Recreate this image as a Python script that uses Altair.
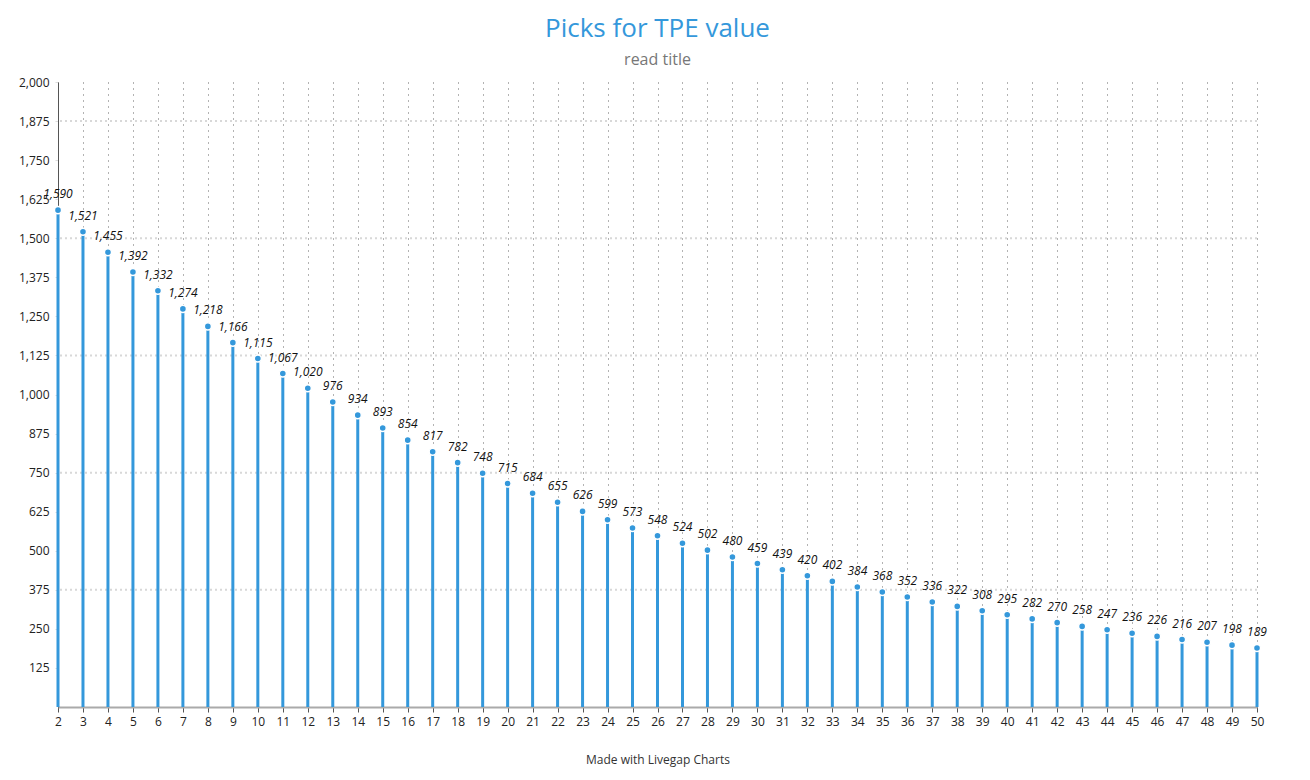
import altair as alt
import pandas as pd

picks = list(range(2, 51))
values = [1590, 1521, 1455, 1392, 1332, 1274, 1218, 1166, 1115, 1067, 1020, 976, 934, 893,
          854, 817, 782, 748, 715, 684, 655, 626, 599, 573, 548, 524, 502, 480, 459, 439,
          420, 402, 384, 368, 352, 336, 322, 308, 295, 282, 270, 258, 247, 236, 226, 216,
          207, 198, 189]
y_ticks = [125, 250, 375, 500, 625, 750, 875, 1000, 1125, 1250, 1375, 1500, 1625, 1750, 1875, 2000]
grid_lines = [375, 750, 1125, 1500, 1875]

BLUE = "#3498db"
FONT = "Open Sans"

df = pd.DataFrame({"pick": picks, "value": values})
df["label"] = df["value"].map(lambda v: f"{v:,}")
grid_df = pd.DataFrame({"g": grid_lines})

x = alt.X("pick:O", scale=alt.Scale(padding=0, type="point"),
          axis=alt.Axis(title="Made with Livegap Charts", titleFont=FONT, titleFontSize=12,
                        titleFontWeight="normal", titleColor="#333", titlePadding=27,
                        labelAngle=0, labelFont=FONT, labelFontSize=12, labelColor="#222",
                        labelPadding=4,
                        domainColor="#aaaaaa", domainWidth=2, tickColor="#555", tickSize=5,
                        grid=True, gridColor="#666", gridDash=[1, 5], gridWidth=1))
yscale = alt.Scale(domain=[0, 2000], nice=False)
yaxis = alt.Axis(title=None, values=y_ticks, labelFont=FONT, labelFontSize=12, labelColor="#222",
                 format=",.0f", grid=False, domainColor="#555", domainWidth=1,
                 tickColor="#ddd", tickSize=3, labelPadding=6)

base = alt.Chart(df)

grid = alt.Chart(grid_df).mark_rule(color="#d8d8d8", strokeDash=[2, 3], strokeWidth=2).encode(
    y=alt.Y("g:Q", scale=yscale, axis=yaxis))

stems = base.mark_rule(color=BLUE, strokeWidth=3).encode(
    x=x, y=alt.Y("value:Q", scale=yscale, axis=yaxis), y2=alt.datum(0))

dots = base.mark_point(filled=True, shape="circle", size=50, color=BLUE, opacity=1,
                       stroke="white", strokeWidth=1.5).encode(
    x=x, y=alt.Y("value:Q", scale=yscale, axis=yaxis))

labels = base.mark_text(font=FONT, fontSize=12, fontStyle="italic", color="#111",
                        dy=-16, align="center", baseline="middle").encode(
    x=x, y=alt.Y("value:Q", scale=yscale, axis=yaxis), text="label:N")

chart = alt.layer(grid, stems, dots, labels).properties(
    width=1199, height=625,
    title=alt.TitleParams("Picks for TPE value", subtitle="read title", font=FONT, fontSize=26,
                          fontWeight="normal", color=BLUE, subtitleFont=FONT, subtitleFontSize=16,
                          subtitleColor="#777", anchor="middle", offset=8, subtitlePadding=10),
    autosize=alt.AutoSizeParams(type="none"),
    padding={"left": 50, "top": 74, "right": 45, "bottom": 70},
).configure_view(stroke=None)

chart.save("out.html", embed_options={"renderer": "svg", "actions": False})
